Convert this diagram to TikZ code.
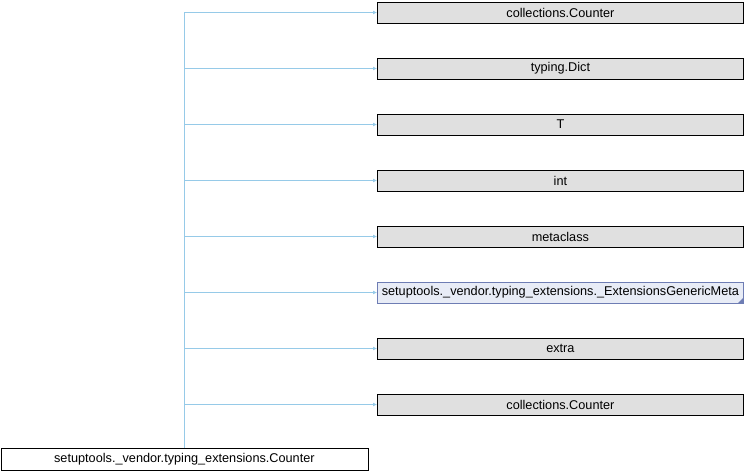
\documentclass[tikz,border=0pt]{standalone}
\usepackage{fontspec}
\setmainfont{Liberation Sans}
\usetikzlibrary{arrows.meta}
\definecolor{docborder}{RGB}{110,125,180}
\definecolor{docfill}{RGB}{232,236,246}
\definecolor{edgeblue}{RGB}{150,202,232}
\definecolor{pfill}{RGB}{224,224,224}
\begin{document}
\begin{tikzpicture}[x=1pt,y=-1pt,
  basebox/.style={draw=black,fill=white,minimum width=367pt,minimum height=22pt,inner sep=0pt,font=\fontsize{12.7}{14}\selectfont,anchor=west,line width=0.8pt},
  parentbox/.style={basebox,fill=pfill,minimum width=366pt,minimum height=21pt},
  docbox/.style={parentbox,draw=docborder,fill=docfill},
  inh/.style={draw=edgeblue,line width=0.8pt,-{Latex[length=4pt,width=4pt]}}]
\useasboundingbox (0,0) rectangle (744,472);
\node[basebox] (child) at (0.5,459.5) {setuptools.\_vendor.typing\_extensions.Counter};
\coordinate (j) at (184,459.5);
\foreach \i/\t/\s in {0/collections.Counter/parentbox,1/typing.Dict/parentbox,2/T/parentbox,3/int/parentbox,4/metaclass/parentbox,5/setuptools.\_vendor.typing\_extensions.\_ExtensionsGenericMeta/docbox,6/extra/parentbox,7/collections.Counter/parentbox}{
  \node[\s] (p\i) at (377,12.5+56*\i) {\t};
}
\fill[docborder] (p5.south east) -- ++(-6,0) -- ++(6,-6) -- cycle;
\draw[draw=edgeblue,line width=0.8pt] (child.north -| j) -- (j |- p0.west);
\foreach \i in {0,...,7}{
  \draw[inh] (j |- p\i.west) -- (p\i.west);
}
\end{tikzpicture}
\end{document}
